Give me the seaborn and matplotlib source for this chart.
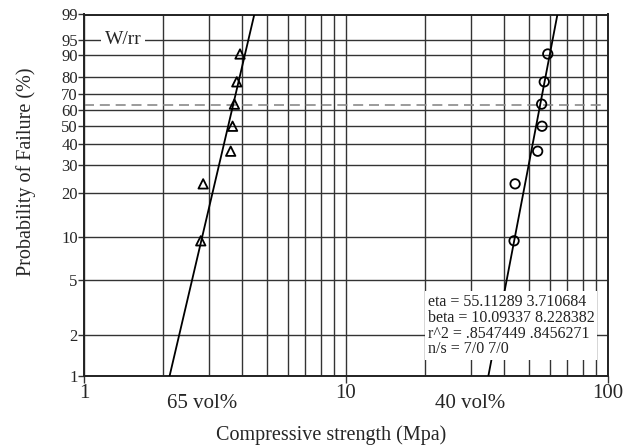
import numpy as np
import pandas as pd
import matplotlib
matplotlib.use('Agg')
import matplotlib.pyplot as plt
import seaborn as sns
from matplotlib.ticker import FixedLocator, NullLocator, LogLocator, NullFormatter
import matplotlib.transforms as mtransforms

# 数据
ranks = [9.46, 22.97, 36.49, 50.0, 63.51, 77.03, 90.54]      # 中位秩 (%)
strength_65 = [2.79, 2.85, 3.63, 3.69, 3.75, 3.83, 3.94]     # 65 vol%
strength_40 = [43.8, 44.2, 53.9, 56.0, 55.8, 57.1, 58.9]     # 40 vol%
groups = ['40 vol%', '65 vol%']
eta = [55.11289, 3.710684]
beta = [10.09337, 8.228382]
r2 = [0.8547449, 0.8456271]
ns = ['7/0', '7/0']
yticks = [1, 2, 5, 10, 20, 30, 40, 50, 60, 70, 80, 90, 95, 99]
xticks = [1, 10, 100]

sns.set_style('ticks')
plt.rcParams['font.family'] = ['Liberation Serif', 'DejaVu Serif']


def weib_fwd(p):
    p = np.clip(np.asarray(p, dtype=float), 0.01, 99.99) / 100.0
    return np.log(-np.log(1.0 - p))


def weib_inv(z):
    return 100.0 * (1.0 - np.exp(-np.exp(np.asarray(z, dtype=float))))


fig = plt.figure(figsize=(6.34, 4.46), dpi=100)
ax = fig.add_axes([84 / 634, 1 - 376 / 446, 524 / 634, 361.5 / 446])
ax.set_xscale('log')
ax.set_yscale('function', functions=(weib_fwd, weib_inv))
ax.set_xlim(1, 100)
ax.set_ylim(1, 99)

# 网格
ax.yaxis.set_major_locator(FixedLocator(yticks))
ax.yaxis.set_minor_locator(NullLocator())
ax.set_yticklabels([str(t) for t in yticks])
ax.xaxis.set_major_locator(FixedLocator(xticks))
ax.xaxis.set_minor_locator(LogLocator(base=10, subs=np.arange(2, 10)))
ax.xaxis.set_minor_formatter(NullFormatter())
ax.set_xticklabels([str(t) for t in xticks])
ax.grid(which='both', color='#333333', lw=1.0, zorder=1)
ax.set_axisbelow(True)

ax.tick_params(axis='y', which='major', direction='out', length=4.5, width=1.0,
               labelsize=12, pad=0, color='#333333')
ax.tick_params(axis='x', which='major', direction='out', length=5, width=1.0,
               labelsize=15, pad=1, color='#333333')
ax.tick_params(axis='x', which='minor', length=0)
for sp in ax.spines.values():
    sp.set_linewidth(1.4)
    sp.set_color('#222222')

# 63.2% 参考线
ax.axhline(100 * (1 - np.exp(-1)), xmin=0, xmax=0.9885, color='#8a8a8a',
           lw=1.2, ls=(0, (6, 3.5)), zorder=2)

# 拟合直线
p_ends = np.array([1.0, 99.0])
rows = []
for g, e, b in zip(groups, eta, beta):
    for p in p_ends:
        x = e * np.exp(weib_fwd(p) / b)
        rows.append({'group': g, 'strength': x, 'F': p})
fit_df = pd.DataFrame(rows)
sns.lineplot(data=fit_df, x='strength', y='F', units='group', estimator=None,
             sort=False, color='black', lw=1.3, ax=ax, zorder=3)

# 数据点
pts = pd.DataFrame({
    'strength': strength_65 + strength_40,
    'F': ranks + ranks,
    'group': ['65 vol%'] * len(ranks) + ['40 vol%'] * len(ranks),
})
sns.scatterplot(data=pts, x='strength', y='F', style='group',
                markers={'65 vol%': '^', '40 vol%': 'o'}, color='black',
                s=46, linewidth=1.3, legend=False, ax=ax, zorder=4)
for coll in ax.collections:
    coll.set_facecolor('none')
    coll.set_edgecolor('black')

# 文本
ax.text(1.41, 95, 'W/rr', fontsize=14, ha='center', va='center', zorder=5,
        bbox=dict(facecolor='white', edgecolor='none', pad=2.5))

info = '\n'.join([
    'eta = {:.7g} {:.7g}'.format(eta[0], eta[1]),
    'beta = {:.7g} {:.7g}'.format(beta[0], beta[1]),
    'r^2 = {} {}'.format('{:.7f}'.format(r2[0]).lstrip('0'),
                         '{:.7f}'.format(r2[1]).lstrip('0')),
    'n/s = {} {}'.format(ns[0], ns[1]),
])
ax.text((428 - 84) / 524, (376 - 294) / 361.5, info, transform=ax.transAxes,
        fontsize=11.5, ha='left', va='top', linespacing=0.98, color='#222222',
        zorder=6, bbox=dict(facecolor='white', edgecolor='none', pad=2))

trans = mtransforms.blended_transform_factory(ax.transData, ax.transAxes)
ax.text(2.82, -0.077, '65 vol%', transform=trans, fontsize=15, ha='center', va='center')
ax.text(29.7, -0.077, '40 vol%', transform=trans, fontsize=15, ha='center', va='center')

ax.set_xlabel('')
ax.set_ylabel('')
fig.text(331 / 634, 1 - 435 / 446, 'Compressive strength (Mpa)', fontsize=14.5,
         ha='center', va='center')
fig.text(26 / 634, 1 - 172 / 446, 'Probability of Failure (%)', fontsize=14.5,
         ha='center', va='center', rotation=90)

fig.savefig('out.png', dpi=100)
